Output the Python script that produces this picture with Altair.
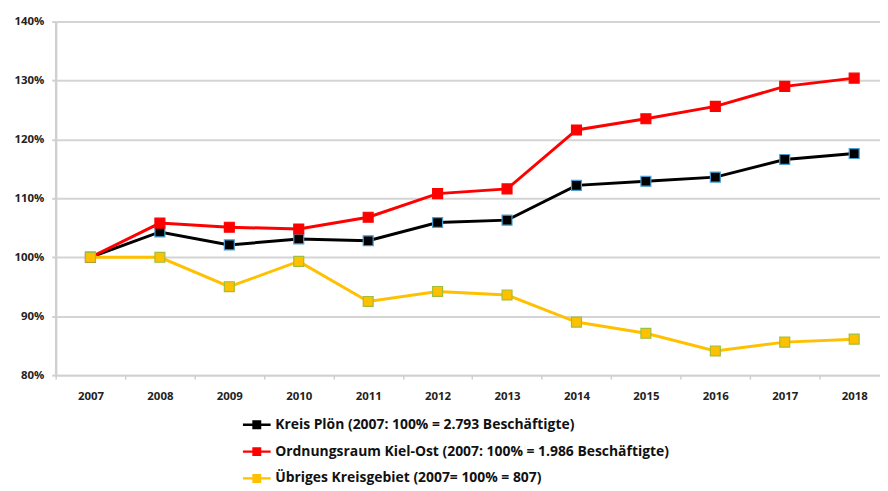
import altair as alt
import pandas as pd

years = ["2007", "2008", "2009", "2010", "2011", "2012", "2013", "2014", "2015", "2016", "2017", "2018"]
kreis_ploen = [100, 104.3, 102.1, 103.1, 102.8, 105.9, 106.3, 112.2, 112.9, 113.6, 116.6, 117.6]
kiel_ost = [100, 105.8, 105.1, 104.8, 106.8, 110.8, 111.6, 121.6, 123.5, 125.6, 129.0, 130.4]
uebriges = [100, 100, 95.0, 99.3, 92.5, 94.2, 93.6, 89.0, 87.1, 84.1, 85.6, 86.1]

series_names = [
    "Kreis Plön (2007: 100% = 2.793 Beschäftigte)",
    "Ordnungsraum Kiel-Ost (2007: 100% = 1.986 Beschäftigte)",
    "Übriges Kreisgebiet (2007= 100% = 807)",
]
line_colors = ["#000000", "#ff0000", "#ffc000"]
marker_borders = ["#4a9fd4", "#ff0000", "#9fbf3a"]
y_ticks = [80, 90, 100, 110, 120, 130, 140]

rows = []
for name, vals in zip(series_names, [kreis_ploen, kiel_ost, uebriges]):
    for y, v in zip(years, vals):
        rows.append({"Jahr": y, "Wert": v, "Serie": name, "Rand": "r_" + name})
df = pd.DataFrame(rows)

FONT = "Open Sans"
HALF_STEP = 35

x_enc = alt.X(
    "Jahr:O",
    sort=years,
    title=None,
    scale=alt.Scale(type="point", padding=0.4365, align=0.574),
    axis=alt.Axis(
        labelAngle=0, labelFont=FONT, labelFontSize=11.5, labelFontWeight="bold",
        labelColor="#222222", labelPadding=12, tickSize=4,
        tickOffset=-HALF_STEP, labelOffset=HALF_STEP,
        tickColor="#d0d0d0", tickWidth=1.5, domainColor="#d0d0d0", domainWidth=2,
        grid=False,
    ),
)
y_enc = alt.Y(
    "Wert:Q",
    title=None,
    scale=alt.Scale(domain=[80, 140], nice=False, zero=False),
    axis=alt.Axis(
        values=y_ticks, labelExpr="datum.value + '%'", labelFont=FONT, labelFontSize=11.5,
        labelFontWeight="bold", labelColor="#222222", labelPadding=8, tickSize=4,
        tickColor="#d0d0d0", tickWidth=2, domainColor="#d0d0d0", domainWidth=2.5,
        grid=True, gridColor="#d4d4d4", gridWidth=2,
    ),
)
color_scale = alt.Scale(domain=series_names, range=line_colors)

legend_path = ("M-3.1,-0.26 L3.1,-0.26 L3.1,0.26 L-3.1,0.26 Z "
               "M-1,-1 L1,-1 L1,1 L-1,1 Z")
legend = alt.Legend(
    title=None, orient="none", legendX=195.5, legendY=399, direction="vertical",
    symbolType=legend_path, symbolSize=81, symbolOpacity=1, symbolStrokeWidth=0,
    labelFont=FONT, labelFontSize=14, labelFontWeight="bold", labelColor="#111111",
    labelOffset=11.5, rowPadding=13, labelLimit=600,
)

lines = alt.Chart(df).mark_line(strokeWidth=3).encode(
    x=x_enc, y=y_enc,
    color=alt.Color("Serie:N", scale=color_scale, sort=series_names, legend=legend),
    order=alt.Order("Jahr:O"),
)

points = alt.Chart(df).mark_point(shape="square", filled=True, size=100, strokeWidth=1.2, opacity=1).encode(
    x=x_enc, y=y_enc,
    color=alt.Color("Serie:N", scale=color_scale, sort=series_names, legend=legend),
    stroke=alt.Stroke("Rand:N", scale=alt.Scale(domain=["r_" + n for n in series_names], range=marker_borders), legend=None),
)

chart = alt.layer(lines, points).properties(
    width=830, height=356,
    autosize=alt.AutoSizeParams(type="none"),
    padding={"left": 48, "top": 12, "right": 0, "bottom": 112},
).configure_view(stroke=None)

chart.save("out.html", embed_options={"renderer": "svg", "actions": False})
